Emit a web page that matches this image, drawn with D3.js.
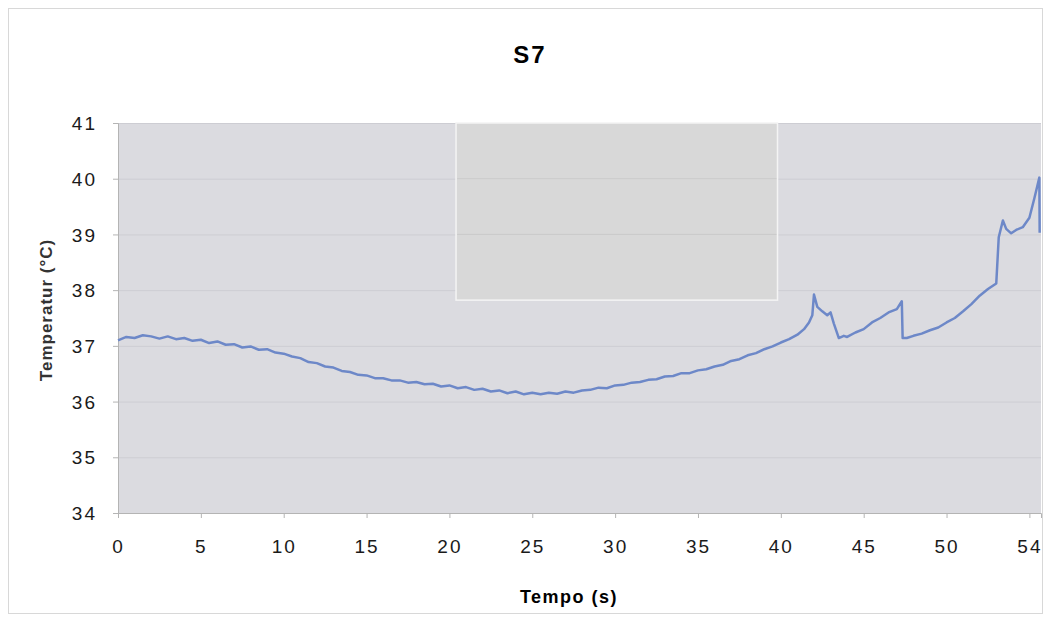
<!DOCTYPE html>
<html>
<head>
<meta charset="utf-8">
<script src="https://cdnjs.cloudflare.com/ajax/libs/d3/7.8.5/d3.min.js"></script>
<style>
  body { margin: 0; background: #ffffff; }
  text { font-family: "Liberation Sans", Arial, sans-serif; }
</style>
</head>
<body>
<div id="chart"></div>
<script>
// Chart data
var chartTitle = "S7";
var xTitle = "Tempo (s)";
var yTitle = "Temperatur (°C)";

var xTickValues = [0, 5, 10, 15, 20, 25, 30, 35, 40, 45, 50, 55];
var xTickLabels = ["0", "5", "10", "15", "20", "25", "30", "35", "40", "45", "50", "54"];
var yTickValues = [34, 35, 36, 37, 38, 39, 40, 41];

// time (s)
var times = [
  0.0, 0.5, 1.0, 1.5, 2.0, 2.5, 3.0, 3.5, 4.0, 4.5,
  5.0, 5.5, 6.0, 6.5, 7.0, 7.5, 8.0, 8.5, 9.0, 9.5,
  10.0, 10.5, 11.0, 11.5, 12.0, 12.5, 13.0, 13.5, 14.0, 14.5,
  15.0, 15.5, 16.0, 16.5, 17.0, 17.5, 18.0, 18.5, 19.0, 19.5,
  20.0, 20.5, 21.0, 21.5, 22.0, 22.5, 23.0, 23.5, 24.0, 24.5,
  25.0, 25.5, 26.0, 26.5, 27.0, 27.5, 28.0, 28.5, 29.0, 29.5,
  30.0, 30.5, 31.0, 31.5, 32.0, 32.5, 33.0, 33.5, 34.0, 34.5,
  35.0, 35.5, 36.0, 36.5, 37.0, 37.5, 38.0, 38.5, 39.0, 39.5,
  40.0, 40.5, 41.0, 41.4, 41.7, 41.9, 42.0, 42.2, 42.5, 42.8,
  43.0, 43.2, 43.5, 43.8, 44.0, 44.5, 45.0, 45.5, 46.0, 46.5,
  47.0, 47.3, 47.35, 47.6, 48.0, 48.5, 49.0, 49.5, 50.0, 50.5,
  51.0, 51.5, 52.0, 52.5, 53.0, 53.15, 53.4, 53.6, 53.9, 54.2,
  54.6, 55.0, 55.3, 55.6, 55.62
];

// temperature (°C)
var temps = [
  37.10, 37.16, 37.14, 37.19, 37.17, 37.13, 37.17, 37.12, 37.14, 37.09,
  37.11, 37.05, 37.08, 37.02, 37.03, 36.97, 36.99, 36.93, 36.94, 36.88,
  36.86, 36.81, 36.78, 36.71, 36.69, 36.63, 36.61, 36.55, 36.53, 36.48,
  36.47, 36.42, 36.42, 36.38, 36.38, 36.34, 36.35, 36.31, 36.32, 36.27,
  36.29, 36.24, 36.26, 36.21, 36.23, 36.18, 36.20, 36.15, 36.18, 36.13,
  36.16, 36.13, 36.16, 36.14, 36.18, 36.16, 36.20, 36.21, 36.25, 36.24,
  36.29, 36.30, 36.34, 36.35, 36.39, 36.40, 36.45, 36.46, 36.51, 36.51,
  36.56, 36.58, 36.63, 36.66, 36.73, 36.76, 36.83, 36.87, 36.94, 36.99,
  37.06, 37.12, 37.20, 37.30, 37.42, 37.55, 37.92, 37.70, 37.62, 37.55,
  37.60, 37.40, 37.14, 37.18, 37.16, 37.24, 37.30, 37.42, 37.50, 37.60,
  37.66, 37.80, 37.14, 37.14, 37.18, 37.22, 37.28, 37.33, 37.42, 37.50,
  37.62, 37.75, 37.90, 38.02, 38.12, 38.95, 39.25, 39.10, 39.02, 39.08,
  39.13, 39.30, 39.65, 40.02, 39.03
];

// pasted-over patch in the upper middle of the plot (data units)
var patchX = [20.4, 39.8];
var patchY = [37.82, 41];

var data = times.map(function(t, i) { return { t: t, v: temps[i] }; });

// SVG area
var svgWidth = 1045;
var svgHeight = 622;

var margin = { top: 123, right: 4, bottom: 109, left: 118 };
var chartWidth = svgWidth - margin.left - margin.right;
var chartHeight = svgHeight - margin.top - margin.bottom;

var svg = d3.select("#chart")
  .append("svg")
  .attr("width", svgWidth)
  .attr("height", svgHeight);

// outer frame
svg.append("rect")
  .attr("x", 8.5).attr("y", 8.5)
  .attr("width", 1034).attr("height", 605)
  .attr("fill", "none")
  .attr("stroke", "#d8d8d8");

var chartGroup = svg.append("g")
  .attr("transform", `translate(${margin.left}, ${margin.top})`);

var xScale = d3.scaleLinear().domain([0, 55.7]).range([0, chartWidth]);
var yScale = d3.scaleLinear().domain([34, 41]).range([chartHeight, 0]);

// plot background
chartGroup.append("rect")
  .attr("width", chartWidth)
  .attr("height", chartHeight)
  .attr("fill", "#dbdbe0");

// horizontal gridlines
chartGroup.append("g")
  .call(d3.axisLeft(yScale).tickValues(yTickValues).tickSize(-chartWidth).tickFormat(""))
  .call(g => g.select(".domain").remove())
  .selectAll("line")
  .attr("stroke", "#cdcdd3")
  .attr("stroke-width", 1);

// patch
chartGroup.append("rect")
  .attr("x", xScale(patchX[0]))
  .attr("y", yScale(patchY[1]))
  .attr("width", xScale(patchX[1]) - xScale(patchX[0]))
  .attr("height", yScale(patchY[0]) - yScale(patchY[1]))
  .attr("fill", "#d8d8d8")
  .attr("stroke", "#f4f4f4")
  .attr("stroke-width", 1.5);

// gridlines still visible through patch
chartGroup.append("g")
  .selectAll("line")
  .data([39, 40])
  .enter().append("line")
  .attr("x1", xScale(patchX[0]) + 1)
  .attr("x2", xScale(patchX[1]) - 1)
  .attr("y1", d => yScale(d))
  .attr("y2", d => yScale(d))
  .attr("stroke", "#cbcbcb");

// axes
var bottomAxis = d3.axisBottom(xScale)
  .tickValues(xTickValues)
  .tickSize(5)
  .tickPadding(22)
  .tickFormat((d, i) => xTickLabels[i]);
var leftAxis = d3.axisLeft(yScale)
  .tickValues(yTickValues)
  .tickSize(5)
  .tickPadding(16)
  .tickFormat(d3.format("d"));

var xAxisG = chartGroup.append("g")
  .attr("transform", `translate(0, ${chartHeight})`)
  .call(bottomAxis);
var yAxisG = chartGroup.append("g").call(leftAxis);

[xAxisG, yAxisG].forEach(function(g) {
  g.select(".domain").attr("stroke", "#b4b4b4");
  g.selectAll(".tick line").attr("stroke", "#b4b4b4");
  g.selectAll(".tick text")
    .attr("fill", "#1a1a1a")
    .style("font-size", "19px")
    .style("letter-spacing", "2px");
});
yAxisG.selectAll(".tick text").attr("dy", "0.35em");

// the temperature line
var line = d3.line()
  .x(d => xScale(d.t))
  .y(d => yScale(d.v));

chartGroup.append("path")
  .datum(data)
  .attr("fill", "none")
  .attr("stroke", "#6d88c8")
  .attr("stroke-width", 2.5)
  .attr("stroke-linejoin", "round")
  .attr("d", line);

// title
svg.append("text")
  .attr("x", 530)
  .attr("y", 63)
  .attr("text-anchor", "middle")
  .style("font-size", "24px")
  .style("font-weight", "bold")
  .style("letter-spacing", "2px")
  .text(chartTitle);

// axis titles
svg.append("text")
  .attr("transform", "rotate(-90)")
  .attr("x", -310)
  .attr("y", 52)
  .attr("text-anchor", "middle")
  .attr("fill", "#333")
  .style("font-size", "17px")
  .style("font-weight", "bold")
  .style("letter-spacing", "1px")
  .text(yTitle);

svg.append("text")
  .attr("x", 569)
  .attr("y", 603)
  .attr("text-anchor", "middle")
  .style("font-size", "18px")
  .style("font-weight", "bold")
  .style("letter-spacing", "1.5px")
  .text(xTitle);
</script>
</body>
</html>
